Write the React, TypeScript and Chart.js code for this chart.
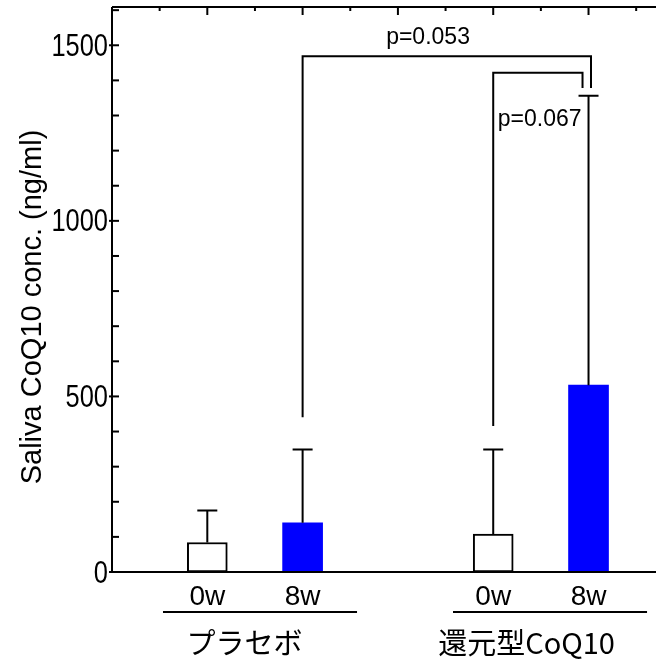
import React, { useEffect, useRef } from "react";
import { Chart, registerables } from "chart.js";

Chart.register(...registerables);

// ---- data ----
const categories = ["0w", "8w", "0w", "8w"];
const positions = [1, 2, 4, 5];
const means = [84, 140, 108, 532];
const sds = [91, 209, 241, 824];
const fills = ["#ffffff", "#0000ff", "#ffffff", "#0000ff"];
const groups = ["プラセボ", "還元型CoQ10"];
const yTickValues = [0, 500, 1000, 1500];
const yTickLabels = ["0", "500", "1000", "1500"];
const yTitle = "Saliva CoQ10 conc. (ng/ml)";
const pLabels = ["p=0.053", "p=0.067"];
// bracket levels (value units)
const bracketTop = [1469, 1422];
const bracketLeftBottom = [441, 416];
const bracketRightBottom = [1378, 1378];

// ---- layout (axis units) ----
const groupSpans = [
  [0.535, 2.571],
  [3.578, 5.614],
];
const groupLabelX = [1.39, 4.35];
const bracketFrom = [2, 4];
const bracketTo = [5.026, 4.937];
const X_MAX = 5.708;
const Y_MAX = 1609;

const axisPlugin = {
  id: "customAxes",
  afterDatasetsDraw(chart: any) {
    const ctx = chart.ctx as CanvasRenderingContext2D;
    const xs = chart.scales.x;
    const ys = chart.scales.y;
    const area = chart.chartArea;
    const X = (v: number) => xs.getPixelForValue(v);
    const Y = (v: number) => ys.getPixelForValue(v);
    ctx.save();
    ctx.strokeStyle = "#000";
    ctx.fillStyle = "#000";
    ctx.lineWidth = 2;
    ctx.lineCap = "butt";

    // error bars
    for (let i = 0; i < means.length; i++) {
      const cx = X(positions[i]);
      const y0 = Y(means[i]);
      const y1 = Y(means[i] + sds[i]);
      ctx.beginPath();
      ctx.moveTo(cx, y0);
      ctx.lineTo(cx, y1);
      ctx.moveTo(cx - 10, y1);
      ctx.lineTo(cx + 10, y1);
      ctx.stroke();
    }

    // brackets
    for (let i = 0; i < bracketFrom.length; i++) {
      const xa = X(bracketFrom[i]);
      const xb = X(bracketTo[i]);
      ctx.beginPath();
      ctx.moveTo(xa, Y(bracketLeftBottom[i]));
      ctx.lineTo(xa, Y(bracketTop[i]));
      ctx.lineTo(xb, Y(bracketTop[i]));
      ctx.lineTo(xb, Y(bracketRightBottom[i]));
      ctx.stroke();
    }
    ctx.font = '23px "Liberation Sans", Arial, sans-serif';
    ctx.textBaseline = "middle";
    ctx.textAlign = "center";
    ctx.fillText(pLabels[0], X(3.316), Y(1523));
    ctx.textAlign = "right";
    ctx.fillText(pLabels[1], X(bracketTo[1]) - 1, Y(1287));

    // axes frame
    ctx.beginPath();
    ctx.moveTo(area.left, area.top);
    ctx.lineTo(area.left, area.bottom);
    ctx.lineTo(area.right, area.bottom);
    ctx.moveTo(area.left, area.top);
    ctx.lineTo(area.right, area.top);
    ctx.stroke();

    // y ticks
    for (let v = 0; v <= 1600; v += 100) {
      const y = Y(v);
      const major = v % 500 === 0;
      ctx.beginPath();
      ctx.moveTo(area.left - (major ? 3 : 0), y);
      ctx.lineTo(area.left + 7, y);
      ctx.stroke();
    }
    // top ticks
    for (let k = 1; k <= 11; k++) {
      const v = k * 0.5;
      if (v > X_MAX) break;
      const x = X(v);
      const long = k % 2 === 0;
      ctx.beginPath();
      ctx.moveTo(x, area.top);
      ctx.lineTo(x, area.top + (long ? 8 : 4));
      ctx.stroke();
    }

    // y tick labels (condensed)
    ctx.font = '31px "Liberation Sans", Arial, sans-serif';
    ctx.textAlign = "right";
    ctx.textBaseline = "middle";
    yTickValues.forEach((v, i) => {
      ctx.save();
      ctx.translate(area.left - 4, Y(v) + 2);
      ctx.scale(0.82, 1);
      ctx.fillText(yTickLabels[i], 0, 0);
      ctx.restore();
    });

    // x category labels
    ctx.font = '28px "Liberation Sans", Arial, sans-serif';
    ctx.textAlign = "center";
    categories.forEach((c, i) => {
      ctx.fillText(c, X(positions[i]), area.bottom + 25);
    });

    // group lines + labels
    groupSpans.forEach((s) => {
      ctx.beginPath();
      ctx.moveTo(X(s[0]), area.bottom + 40);
      ctx.lineTo(X(s[1]), area.bottom + 40);
      ctx.stroke();
    });
    ctx.font = '29px "Noto Sans CJK JP", sans-serif';
    groups.forEach((g, i) => {
      ctx.fillText(g, X(groupLabelX[i]), area.bottom + 71);
    });

    // y title
    ctx.save();
    ctx.translate(33, 307);
    ctx.rotate(-Math.PI / 2);
    ctx.font = '29px "Liberation Sans", Arial, sans-serif';
    ctx.textAlign = "center";
    ctx.textBaseline = "middle";
    ctx.fillText(yTitle, 0, 0);
    ctx.restore();

    ctx.restore();
  },
};

export default function App() {
  const ref = useRef<HTMLCanvasElement | null>(null);
  useEffect(() => {
    document.body.style.margin = "0";
    const chart = new Chart(ref.current as HTMLCanvasElement, {
      type: "bar",
      data: {
        datasets: [
          {
            data: positions.map((p, i) => ({ x: p, y: means[i] })),
            backgroundColor: fills,
            borderColor: fills.map((f) => (f === "#ffffff" ? "#000000" : f)),
            borderWidth: fills.map((f) => (f === "#ffffff" ? 2 : 0)),
            borderSkipped: false,
            barThickness: 40,
          } as any,
        ],
      },
      options: {
        animation: false,
        responsive: false,
        maintainAspectRatio: false,
        layout: { padding: { left: 112, top: 7, right: 0, bottom: 92 } },
        plugins: { legend: { display: false }, tooltip: { enabled: false } },
        scales: {
          x: { type: "linear", min: 0, max: X_MAX, offset: false, display: false },
          y: { min: 0, max: Y_MAX, display: false },
        },
      },
      plugins: [axisPlugin],
    });
    return () => chart.destroy();
  }, []);
  return (
    <div style={{ position: "absolute", left: 0, top: 0, width: 656, height: 664 }}>
      <canvas ref={ref} width={656} height={664} style={{ width: 656, height: 664 }} />
    </div>
  );
}
